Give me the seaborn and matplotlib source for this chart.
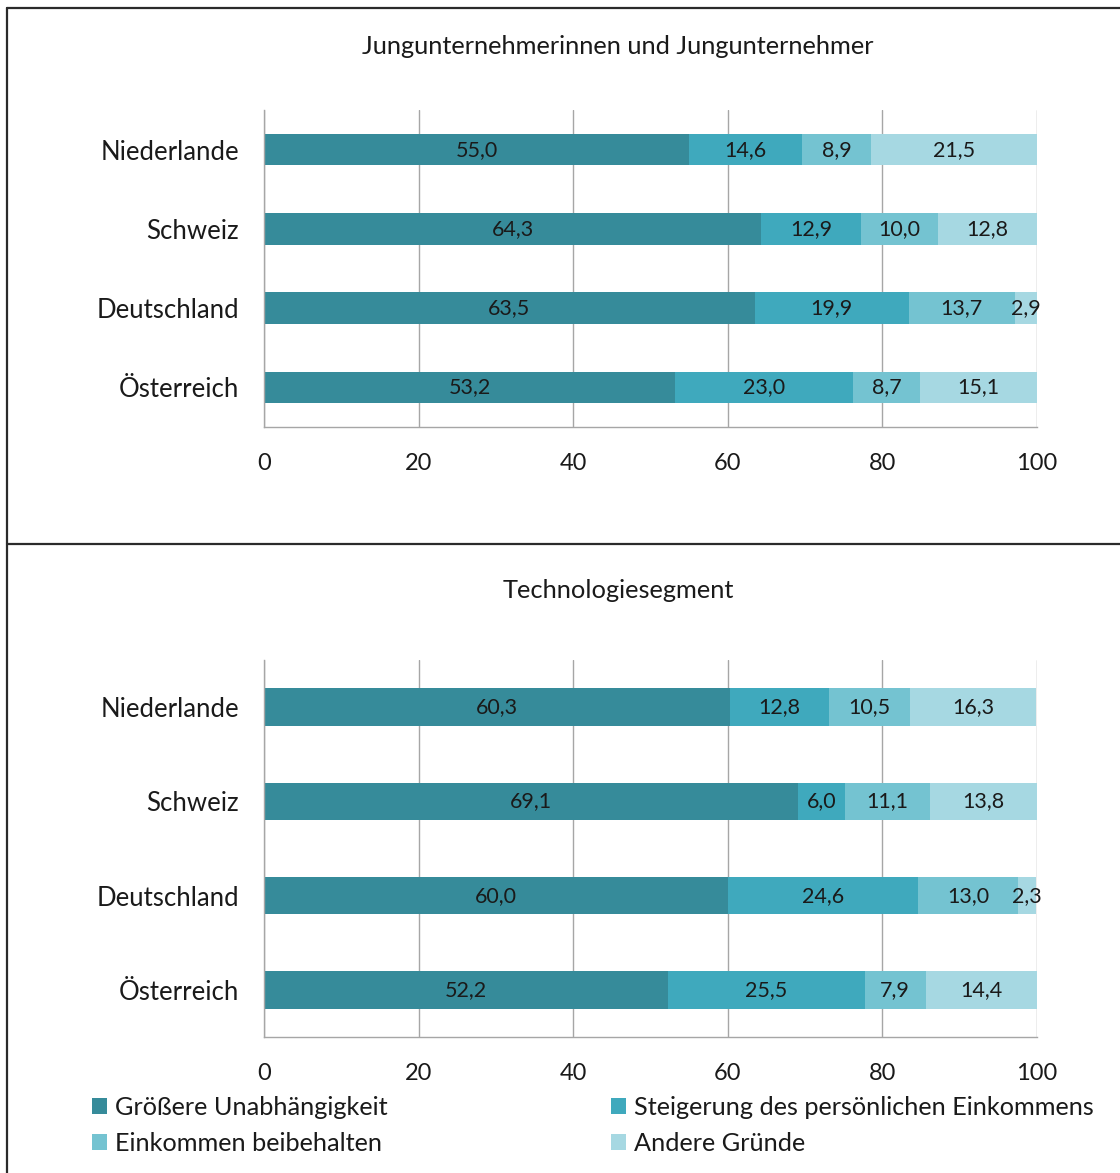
import matplotlib
matplotlib.use("Agg")
import matplotlib.pyplot as plt
from matplotlib.patches import Patch
from matplotlib.lines import Line2D
import numpy as np
import pandas as pd
import seaborn as sns

# Data
countries = ["Niederlande", "Schweiz", "Deutschland", "Österreich"]
series = ["Größere Unabhängigkeit", "Steigerung des persönlichen Einkommens",
          "Einkommen beibehalten", "Andere Gründe"]

jung_unabh = [55.0, 64.3, 63.5, 53.2]
jung_steig = [14.6, 12.9, 19.9, 23.0]
jung_beib = [8.9, 10.0, 13.7, 8.7]
jung_andere = [21.5, 12.8, 2.9, 15.1]

tech_unabh = [60.3, 69.1, 60.0, 52.2]
tech_steig = [12.8, 6.0, 24.6, 25.5]
tech_beib = [10.5, 11.1, 13.0, 7.9]
tech_andere = [16.3, 13.8, 2.3, 14.4]

titles = ["Jungunternehmerinnen und Jungunternehmer", "Technologiesegment"]
xticks = [0, 20, 40, 60, 80, 100]

colors = ["#368B9A", "#3FA9BD", "#74C3D1", "#A6D8E2"]

sns.set_theme(style="white")
plt.rcParams["font.family"] = ["Lato", "DejaVu Sans"]

W, H = 1120, 1173
fig = plt.figure(figsize=(W / 100, H / 100), dpi=100)

def fx(px):
    return px / W

def fy(py):
    return 1 - py / H

# panel boxes
fig.add_artist(Line2D([fx(7), fx(7)], [fy(8), 0], color="#2b2b2b", lw=1.6, transform=fig.transFigure))
fig.add_artist(Line2D([fx(7), 1], [fy(8), fy(8)], color="#2b2b2b", lw=1.6, transform=fig.transFigure))
fig.add_artist(Line2D([fx(7), 1], [fy(544), fy(544)], color="#2b2b2b", lw=1.6, transform=fig.transFigure))

left, right = 264, 1037
panels = [
    (110, 427, 46, [jung_unabh, jung_steig, jung_beib, jung_andere]),
    (660, 1037, 590, [tech_unabh, tech_steig, tech_beib, tech_andere]),
]

grid_col = "#A6A6A6"

for (top, bot, title_y, vals), title in zip(panels, titles):
    ax = fig.add_axes([fx(left), fy(bot), fx(right) - fx(left), (bot - top) / H])
    cum = np.cumsum(np.array(vals), axis=0)
    # stacked bars drawn as overlapping cumulative totals
    for i in range(len(series) - 1, -1, -1):
        d = pd.DataFrame({"Land": countries, "wert": cum[i]})
        sns.barplot(data=d, x="wert", y="Land", orient="h", color=colors[i],
                    saturation=1, width=0.4, ax=ax, edgecolor="none", linewidth=0)
    # value labels
    for i in range(len(series)):
        start = cum[i] - np.array(vals[i])
        for j, c in enumerate(countries):
            ax.text(start[j] + vals[i][j] / 2, j, f"{vals[i][j]:.1f}".replace(".", ","),
                    ha="center", va="center", fontsize=15.5, color="#1a1a1a")
    ax.set_xlim(0, 100)
    ax.set_ylim(3.5, -0.5)
    ax.set_xticks(xticks)
    ax.set_xticklabels([str(t) for t in xticks], fontsize=17, color="#1a1a1a")
    ax.set_xlabel("")
    ax.set_ylabel("")
    ax.tick_params(axis="y", length=0, pad=18, labelsize=18.5, labelcolor="#1a1a1a")
    ax.tick_params(axis="x", length=7, width=1, color=grid_col, direction="out", pad=12)
    ax.xaxis.grid(True, color=grid_col, lw=1)
    ax.set_axisbelow(True)
    for s in ["top", "right"]:
        ax.spines[s].set_visible(False)
    for s in ["left", "bottom"]:
        ax.spines[s].set_color(grid_col)
        ax.spines[s].set_linewidth(1)
    fig.text(fx(618), fy(title_y), title, ha="center", va="center", fontsize=18.3, color="#1a1a1a")

# legend filled row by row
order = [0, 2, 1, 3]
handles = [Patch(facecolor=colors[k], edgecolor="none") for k in order]
labels = [series[k] for k in order]
fig.legend(handles, labels, loc="upper left", bbox_to_anchor=(fx(82), fy(1086)), ncol=2,
           frameon=False, fontsize=18.2, handlelength=0.6, handleheight=0.6,
           handletextpad=0.3, columnspacing=8.85, labelspacing=0.5, borderaxespad=0,
           labelcolor="#1a1a1a")

fig.savefig("out.png", dpi=100, facecolor="white")
